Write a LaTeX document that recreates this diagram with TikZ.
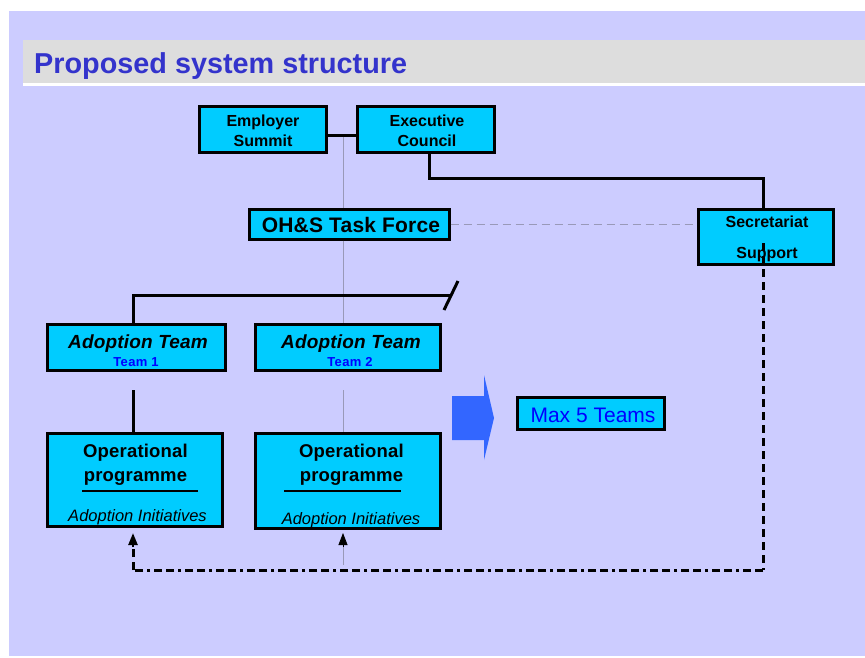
\documentclass[tikz,border=0pt]{standalone}
\usepackage{fontspec}
\setmainfont{Liberation Sans}
\usetikzlibrary{arrows.meta}
\definecolor{lav}{HTML}{CCCCFF}
\definecolor{band}{HTML}{DDDDDD}
\definecolor{titleblue}{HTML}{3333CC}
\definecolor{boxcyan}{HTML}{00CCFF}
\definecolor{arrowblue}{HTML}{3366FF}
\definecolor{teamblue}{HTML}{0000FF}
\definecolor{guide}{HTML}{9999B8}
% size plus a little tracking
\newcommand{\fs}[2]{\fontsize{#1}{#1}\selectfont\addfontfeature{LetterSpace=#2}}
\begin{document}
\begin{tikzpicture}[x=1pt,y=-1pt,
  box/.style={draw=black, line width=3pt, fill=boxcyan, inner sep=0pt},
  lbl/.style={anchor=base, inner sep=0pt},
  conn/.style={draw=black, line width=3pt},
  guideline/.style={draw=guide, line width=0.8pt},
  guidedash/.style={draw=guide, line width=0.9pt, dash pattern=on 8pt off 5pt},
  vdash/.style={draw=black, line width=3pt, dash pattern=on 8pt off 5pt},
  hdash/.style={draw=black, line width=3pt, dash pattern=on 8pt off 4pt on 8pt off 4pt on 3pt off 4pt},
  tip/.style={-{Triangle[width=9pt,length=12pt]}, line width=0.8pt, draw=black}]
\useasboundingbox (0,0) rectangle (865,657);
% backdrop and title band
\fill[white] (0,0) rectangle (865,657);
\fill[lav] (9,11) rectangle (865,656);
\fill[band] (23,40) rectangle (865,83);
\fill[white] (23,83) rectangle (865,86);
\node[lbl, anchor=base west, font=\bfseries\fs{28.8}{0}, text=titleblue] (title) at (34,73) {Proposed system structure};

% reference coordinates for the connector routes
\coordinate (xl) at (133,0);
\coordinate (xm) at (343,0);
\coordinate (xe) at (429,0);
\coordinate (xs) at (763,0);
\coordinate (yj) at (0,135);
\coordinate (yr) at (0,178);
\coordinate (yg) at (0,390);
\coordinate (ysi) at (0,243);
\coordinate (yb) at (0,570);
\coordinate (ya) at (0,547);
\coordinate (yat) at (0,533);
\coordinate (yg2) at (0,565);
\coordinate (tend) at (452,295);
\coordinate (sl1) at (444,310);
\coordinate (sl2) at (458,281);

% boxes
\node[box, minimum width=127pt, minimum height=46pt] (es) at (262.5,129) {};
\node[box, minimum width=137pt, minimum height=46pt] (ec) at (425.5,129) {};
\node[box, minimum width=200pt, minimum height=30pt] (tf) at (349,224) {};
\node[box, minimum width=135pt, minimum height=55pt] (ss) at (765.5,236.5) {};
\node[box, minimum width=178pt, minimum height=46pt] (at1) at (136,347) {};
\node[box, minimum width=185pt, minimum height=46pt] (at2) at (347.5,347) {};
\node[box, minimum width=175pt, minimum height=93pt] (op1) at (134.5,479.5) {};
\node[box, minimum width=185pt, minimum height=95pt] (op2) at (347.5,480.5) {};
\node[box, minimum width=147pt, minimum height=32pt] (mx) at (590.5,413) {};

% box texts
\begin{scope}[font=\bfseries\fs{16}{0}]
\node[lbl] (es1) at (263,126) {Employer};
\node[lbl] (es2) at (263,146) {Summit};
\node[lbl] (ec1) at (427,126) {Executive};
\node[lbl] (ec2) at (427,146) {Council};
\node[lbl] (ss1) at (767,227) {Secretariat};
\node[lbl] (ss2) at (767,258) {Support};
\end{scope}
\node[lbl, font=\bfseries\fs{21}{1}] (tft) at (351,232) {OH\&S Task Force};
\node[lbl, font=\bfseries\itshape\fs{19}{1}] (at1t) at (138,348) {Adoption Team};
\node[lbl, font=\bfseries\fs{13}{3}, text=teamblue] (at1s) at (136,366) {Team 1};
\node[lbl, font=\bfseries\itshape\fs{19}{1}] (at2t) at (351,348) {Adoption Team};
\node[lbl, font=\bfseries\fs{13}{3}, text=teamblue] (at2s) at (350,366) {Team 2};
\begin{scope}[font=\bfseries\fs{18.5}{1}]
\node[lbl] (op1a) at (135.5,457) {Operational};
\node[lbl] (op1b) at (135.5,481) {programme};
\node[lbl] (op2a) at (351.5,457) {Operational};
\node[lbl] (op2b) at (351.5,481) {programme};
\end{scope}
\draw[line width=2.6pt] (82,491) -- (198,491);
\draw[line width=2.6pt] (284,491) -- (401,491);
\node[lbl, font=\itshape\fs{16.5}{0}] (op1c) at (137.5,521) {Adoption Initiatives};
\node[lbl, font=\itshape\fs{16.5}{0}] (op2c) at (351,524) {Adoption Initiatives};
\node[lbl, font=\fs{21}{0}, text=teamblue] (mxt) at (593,422) {Max 5 Teams};

% block arrow towards the team limit
\fill[arrowblue] (452,396) -- (484,396) -- (484,375) -- (494,418) -- (484,460) -- (484,440) -- (452,440) -- cycle;

% thin guide line through the centre column
\draw[guideline] (xm |- yj) -- (xm |- tf.north);
\draw[guideline] (xm |- tf.south) -- (xm |- at2.north);
\draw[guideline] (xm |- yg) -- (xm |- op2.north);
\draw[guidedash] (tf.east) -- (tf.east -| ss.west);

% solid connectors
\draw[conn] (es.east |- yj) -- (ec.west |- yj);
\draw[conn] (xe |- ec.south) |- (xs |- yr) -- (xs |- ss.north);
\draw[conn] (xl |- at1.north) |- (tend);
\draw[conn] (sl1) -- (sl2);
\draw[conn] (xl |- yg) -- (xl |- op1.north);

% dashed feedback route
\draw[vdash] (xs |- ysi) -- (xs |- yb);
\draw[hdash] (xs |- yb) -- (xl |- yb);
\draw[vdash] (xl |- yb) -- (xl |- ya);
\draw[tip, line width=2.4pt] (xl |- ya) -- (xl |- yat);
\draw[guideline] (xm |- yg2) -- (xm |- ya);
\draw[tip] (xm |- ya) -- (xm |- yat);
\end{tikzpicture}
\end{document}
